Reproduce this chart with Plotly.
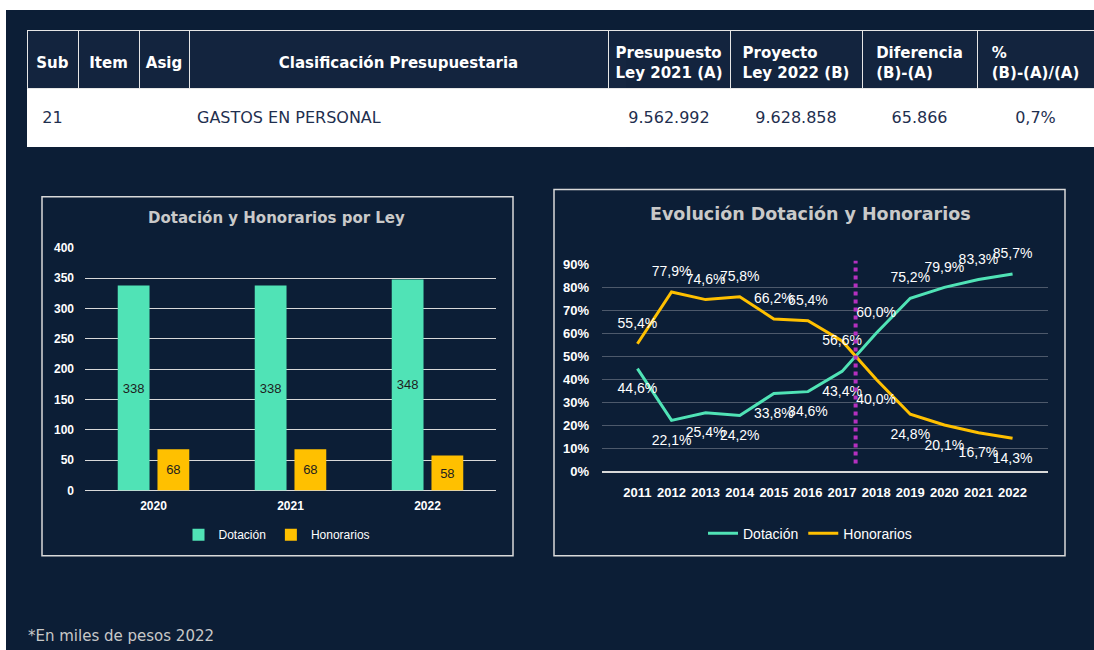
import plotly.graph_objects as go

W, H = 1094, 660
TOP, S = 8, 0.974     # the figure is shown 8 px down and drawn at 97.4 % of its height

# ---------------- data ----------------
table_headers = ["Sub", "Item", "Asig", "Clasificación Presupuestaria",
                 "Presupuesto<br>Ley 2021 (A)", "Proyecto<br>Ley 2022 (B)",
                 "Diferencia<br>(B)-(A)", "%<br>(B)-(A)/(A)"]
table_row = ["21", "", "", "GASTOS EN PERSONAL", "9.562.992", "9.628.858", "65.866", "0,7%"]

bar_years = ["2020", "2021", "2022"]
dotacion_ley = [338, 338, 348]
honorarios_ley = [68, 68, 58]

evo_years = ["2011", "2012", "2013", "2014", "2015", "2016",
             "2017", "2018", "2019", "2020", "2021", "2022"]
evo_dotacion = [44.6, 22.1, 25.4, 24.2, 33.8, 34.6, 43.4, 60.0, 75.2, 79.9, 83.3, 85.7]
evo_honorarios = [55.4, 77.9, 74.6, 75.8, 66.2, 65.4, 56.6, 40.0, 24.8, 20.1, 16.7, 14.3]

# ---------------- helpers ----------------
def fx(px):
    return px / W

def fy(py):
    return 1 - (py - TOP) / (S * H)

def vpx(px):           # vertical pixel size before the page scaling
    return px / S

NAVY = "#0c1e36"
HEAD = "#13243e"
GREEN = "#50e3b6"
GOLD = "#ffc000"
TXT = "#ffffff"
TITLE = "#c9c9c9"
CLEAR = "rgba(0,0,0,0)"
SANS = "Arial, Liberation Sans, sans-serif"
VERD = "Verdana, DejaVu Sans, sans-serif"

def pct(v):
    return f"{v:.1f}%".replace(".", ",")

# crossing point of the two series (for the dotted marker line)
x_cross = None
for i in range(len(evo_dotacion) - 1):
    d0 = evo_dotacion[i] - evo_honorarios[i]
    d1 = evo_dotacion[i + 1] - evo_honorarios[i + 1]
    if d0 < 0 <= d1:
        x_cross = i + (-d0) / (d1 - d0)
        break

fig = go.Figure()

# ---------------- table ----------------
col_w = [51, 61, 50, 419, 122, 132, 115, 117]
n_cols = len(table_headers)
single = [i for i, h in enumerate(table_headers) if "<br>" not in h]
double = [i for i, h in enumerate(table_headers) if "<br>" in h]
col_left = [27]
for w in col_w:
    col_left.append(col_left[-1] + w)

# grid / fills
fig.add_trace(go.Table(
    domain=dict(x=[fx(27), 1.0], y=[fy(152), fy(31)]),
    columnwidth=col_w,
    header=dict(values=[""] * n_cols, fill_color=HEAD,
                line=dict(color="#e6e6e6", width=1), height=vpx(57)),
    cells=dict(values=[[""] for _ in range(n_cols)], fill_color="white",
               line=dict(color="white", width=1), height=vpx(56)),
))
# one-line header texts
fig.add_trace(go.Table(
    domain=dict(x=[fx(col_left[single[0]]), fx(col_left[single[-1] + 1])], y=[fy(150), fy(47)]),
    columnwidth=[col_w[i] for i in single],
    header=dict(values=[f"<b>{table_headers[i]}</b>" for i in single], fill_color=CLEAR,
                line=dict(color=CLEAR, width=0), height=30, align="center",
                font=dict(family=VERD, size=15, color="white")),
    cells=dict(values=[[] for _ in single], fill_color=CLEAR, line=dict(color=CLEAR, width=0)),
))
# two-line header texts
fig.add_trace(go.Table(
    domain=dict(x=[fx(col_left[double[0]]), 1.0], y=[fy(150), fy(37)]),
    columnwidth=[col_w[i] for i in double],
    header=dict(values=[f"<b>{table_headers[i]}</b>" for i in double], fill_color=CLEAR,
                line=dict(color=CLEAR, width=0), height=45, align="center",
                font=dict(family=VERD, size=15, color="white")),
    cells=dict(values=[[] for _ in double], fill_color=CLEAR, line=dict(color=CLEAR, width=0)),
))
# data row texts
fig.add_trace(go.Table(
    domain=dict(x=[fx(27), 1.0], y=[fy(160), fy(104)]),
    columnwidth=col_w,
    header=dict(values=table_row, fill_color=CLEAR, line=dict(color=CLEAR, width=0), height=30,
                align=["center", "center", "center", "left", "center", "center", "center", "center"],
                font=dict(family=VERD, size=16, color="#1f2f4f")),
    cells=dict(values=[[] for _ in table_row], fill_color=CLEAR, line=dict(color=CLEAR, width=0)),
))

# ---------------- bar chart ----------------
for name, vals, col in [("Dotación", dotacion_ley, GREEN), ("Honorarios", honorarios_ley, GOLD)]:
    fig.add_trace(go.Bar(
        x=bar_years, y=vals, name=name, marker_color=col, marker_line_width=0,
        text=[str(v) for v in vals], textposition="inside",
        insidetextanchor="middle", textangle=0, constraintext="none",
        textfont=dict(family=SANS, size=13, color="#1e1e1e"),
        xaxis="x", yaxis="y", legend="legend",
    ))

# ---------------- line chart ----------------
n = len(evo_years)
pos_d = ["bottom center" if evo_dotacion[i] < evo_honorarios[i] else "top center" for i in range(n)]
pos_h = ["top center" if evo_honorarios[i] > evo_dotacion[i] else "bottom center" for i in range(n)]
i_before = int(x_cross)
pos_h[i_before] = "middle center"

def msize(positions):
    out = []
    for p in positions:
        if p.startswith("top"):
            out.append(18)
        elif p.startswith("bottom"):
            out.append(21)
        else:
            out.append(2)
    return out

series = [("Dotación", evo_dotacion, GREEN, pos_d),
          ("Honorarios", evo_honorarios, GOLD, pos_h)]
for name, vals, col, pos in series:
    fig.add_trace(go.Scatter(
        x=evo_years, y=vals, name=name, mode="lines",
        line=dict(color=col, width=3),
        xaxis="x2", yaxis="y2", legend="legend2",
    ))
for name, vals, col, pos in series:
    fig.add_trace(go.Scatter(
        x=evo_years, y=vals, name=name, mode="markers+text", showlegend=False,
        marker=dict(size=msize(pos), color=CLEAR, opacity=0, line=dict(width=0)),
        text=[pct(v) for v in vals], textposition=pos,
        textfont=dict(family=SANS, size=14, color=TXT), cliponaxis=False,
        xaxis="x2", yaxis="y2",
    ))

shapes = [
    dict(type="rect", xref="paper", yref="paper", x0=fx(6), x1=1, y0=0, y1=fy(11),
         fillcolor=NAVY, line=dict(width=0), layer="below"),
    dict(type="rect", xref="paper", yref="paper", x0=fx(42), x1=fx(513), y0=fy(555), y1=fy(197),
         line=dict(color="#d9d9d9", width=1.5), layer="below"),
    dict(type="rect", xref="paper", yref="paper", x0=fx(554), x1=fx(1065), y0=fy(555), y1=fy(190),
         line=dict(color="#d9d9d9", width=1.5), layer="below"),
    dict(type="line", xref="x2", yref="paper", x0=x_cross, x1=x_cross, y0=fy(463), y1=fy(261),
         line=dict(color="#b530bf", width=4, dash="dot"), layer="above"),
]

annotations = [
    dict(text="<b>Dotación y Honorarios por Ley</b>", x=fx(277), y=fy(218), xref="paper", yref="paper",
         showarrow=False, font=dict(family=VERD, size=15, color=TITLE), xanchor="center", yanchor="middle"),
    dict(text="<b>Evolución Dotación y Honorarios</b>", x=fx(810), y=fy(214), xref="paper", yref="paper",
         showarrow=False, font=dict(family=VERD, size=17.5, color=TITLE), xanchor="center", yanchor="middle"),
    dict(text="*En miles de pesos 2022", x=fx(26), y=fy(635), xref="paper", yref="paper",
         showarrow=False, font=dict(family=VERD, size=15, color="#c8c8c8"), xanchor="left", yanchor="middle"),
]

fig.update_layout(
    width=W, height=H, autosize=False, margin=dict(l=0, r=0, t=0, b=0, pad=0),
    paper_bgcolor="white", plot_bgcolor=CLEAR,
    barmode="group", bargap=0.42, bargroupgap=0.2,
    shapes=shapes, annotations=annotations,
    xaxis=dict(domain=[fx(85), fx(496)], anchor="y", type="category",
               showgrid=False, showline=False, zeroline=False, ticks="",
               tickfont=dict(family=SANS, size=12, color=TXT, weight="bold"),
               ticklabelstandoff=6),
    yaxis=dict(domain=[fy(490), fy(248)], anchor="x", range=[0, 400], dtick=50,
               showgrid=True, gridcolor="#d9d9d9", gridwidth=1.3, zeroline=True,
               zerolinecolor="#d9d9d9", zerolinewidth=1.3, showline=False, ticks="",
               tickfont=dict(family=SANS, size=12, color=TXT, weight="bold"),
               ticklabelstandoff=10),
    xaxis2=dict(domain=[fx(602), fx(1048)], anchor="y2", type="category",
                showgrid=False, showline=True, linecolor="#d9d9d9", linewidth=1.5,
                zeroline=False, ticks="",
                tickfont=dict(family=SANS, size=13, color=TXT, weight="bold"),
                ticklabelstandoff=8),
    yaxis2=dict(domain=[fy(470.7), fy(264.3)], anchor="x2", range=[0, 90], dtick=10,
                ticksuffix="%", showgrid=True, gridcolor="#4d596b", gridwidth=1,
                zeroline=False, showline=False, ticks="",
                tickfont=dict(family=SANS, size=13, color=TXT, weight="bold"),
                ticklabelstandoff=12),
    legend=dict(orientation="h", x=fx(277), y=fy(534), xanchor="center", yanchor="middle",
                bgcolor=CLEAR, font=dict(family=SANS, size=12, color=TXT),
                itemwidth=30, tracegroupgap=0),
    legend2=dict(orientation="h", x=fx(810), y=fy(533), xanchor="center", yanchor="middle",
                 bgcolor=CLEAR, font=dict(family=SANS, size=14, color=TXT),
                 itemwidth=30),
)

post = (
    "document.documentElement.style.margin='0';"
    "document.documentElement.style.padding='0';"
    "document.body.style.margin='0';"
    "document.body.style.padding='0';"
)

fig.write_html("out.html", config={"displayModeBar": False, "responsive": False},
               post_script=post)
